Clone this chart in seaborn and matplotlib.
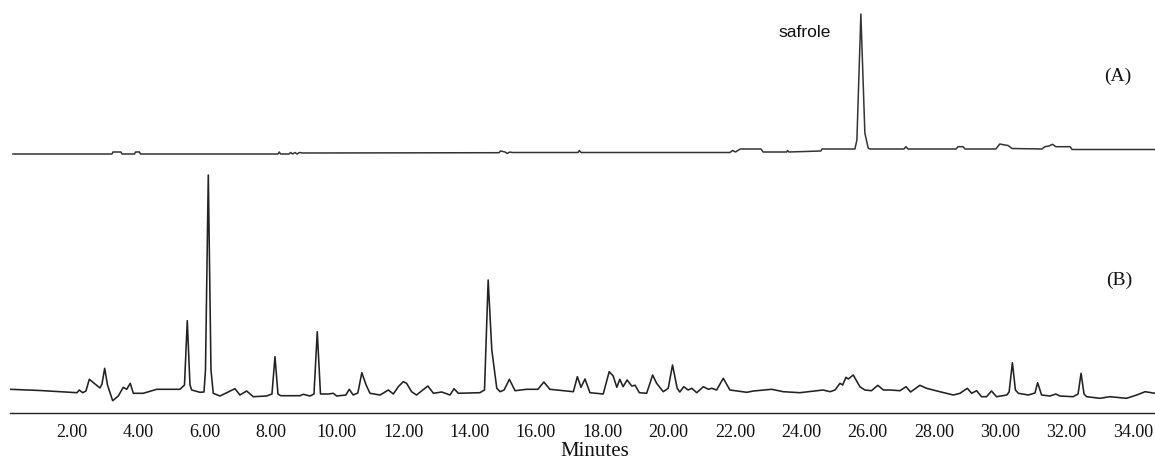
import matplotlib
matplotlib.use("Agg")
import matplotlib.pyplot as plt
from matplotlib.ticker import MultipleLocator, FormatStrFormatter
import seaborn as sns
import pandas as pd

# ---- Trace (A): retention time (min) and detector response ----
time_a = [0.22, 3.215, 3.245, 3.487, 3.517, 3.894, 3.924, 4.045, 4.075, 8.22, 8.26, 8.30,
          8.553, 8.604, 8.659, 8.734, 8.794, 8.869, 8.975, 14.89, 14.93, 15.07, 15.13, 15.22,
          15.28, 17.27, 17.31, 17.36, 21.85, 21.93, 22.02, 22.16, 22.79, 22.85, 23.56, 23.59,
          23.63, 24.59, 24.63, 25.62, 25.68, 25.80, 25.92, 26.02, 26.07, 27.10, 27.16, 27.22,
          28.67, 28.73, 28.88, 28.94, 29.87, 29.99, 30.14, 30.24, 30.36, 31.26, 31.35, 31.47,
          31.58, 31.68, 32.11, 32.17, 34.67]
signal_a = [0, 0, 2, 2, 0, 0, 2, 2, 0, 0, 2, 0,
            0, 1.5, 0, 1.5, 0, 1.5, 1, 1.3, 3, 2, 0.5, 2,
            1.5, 1.5, 3.5, 1.5, 1.5, 3.5, 2, 5, 5, 2, 2, 3.5,
            2, 3, 5, 5, 14, 140, 21, 6, 5, 5, 7.3, 5,
            5, 7.3, 7.3, 5, 5, 10, 9, 8.5, 5.5, 5, 7.3, 8,
            9.7, 7.3, 7.3, 4.5, 4.5]

# ---- Trace (B): retention time (min) and detector response ----
time_b = [0.139, 1.044, 2.160, 2.229, 2.332, 2.431, 2.531, 2.703, 2.853, 2.914, 2.995, 3.080,
          3.236, 3.405, 3.556, 3.659, 3.767, 3.858, 4.159, 4.563, 5.266, 5.402, 5.486, 5.568,
          5.619, 5.869, 5.990, 6.035, 6.120, 6.201, 6.270, 6.472, 6.924, 7.075, 7.277, 7.476,
          7.880, 8.040, 8.131, 8.221, 8.303, 8.885, 8.984, 9.186, 9.307, 9.406, 9.503, 9.738,
          9.889, 9.991, 10.27, 10.37, 10.49, 10.63, 10.75, 10.88, 10.996, 11.30, 11.55, 11.70,
          11.85, 12.00, 12.10, 12.25, 12.40, 12.74, 12.91, 13.16, 13.41, 13.53, 13.66, 14.31,
          14.45, 14.56, 14.67, 14.82, 14.92, 15.04, 15.20, 15.37, 15.72, 16.06, 16.24, 16.42,
          17.13, 17.25, 17.36, 17.48, 17.63, 18.03, 18.21, 18.33, 18.44, 18.53, 18.63, 18.75,
          18.89, 18.99, 19.12, 19.34, 19.52, 19.64, 19.84, 19.99, 20.12, 20.26, 20.34, 20.46,
          20.59, 20.70, 20.85, 21.05, 21.20, 21.30, 21.45, 21.65, 21.85, 22.36, 22.56, 23.11,
          23.46, 23.96, 24.66, 24.87, 25.02, 25.17, 25.25, 25.35, 25.42, 25.57, 25.77, 25.92,
          26.12, 26.31, 26.48, 26.68, 26.98, 27.16, 27.30, 27.58, 27.78, 28.18, 28.59, 28.79,
          29.01, 29.14, 29.29, 29.44, 29.59, 29.74, 29.89, 30.20, 30.27, 30.37, 30.46, 30.55,
          30.85, 31.05, 31.13, 31.25, 31.50, 31.68, 31.80, 32.20, 32.35, 32.44, 32.53, 32.61,
          33.01, 33.31, 33.81, 34.12, 34.37, 34.67]
signal_b = [5.7, 4.5, 2.3, 5, 2.3, 4, 15.7, 11, 7, 11, 26.7, 10,
            -5.7, -1, 7.7, 5.7, 11.7, 1.7, 1.7, 5.7, 5.7, 10, 74.3, 10,
            5, 2.7, 3, 25, 220, 25, 1.7, -1, 6.3, 0, 4, -1.7,
            -1, 1, 38.3, 1, -0.7, -0.7, 0.7, -1, 1, 63.3, 1, 1,
            1.7, -1, 0, 5.7, 0, 2, 22.3, 10, 1.7, 0, 5, 1,
            8.3, 13.3, 11.7, 3.3, 0, 9, 1.7, 3, 0, 6.3, 1.7, 2.3,
            5, 115, 45, 6.7, 3.3, 5, 15.7, 4.3, 5.7, 5.7, 13, 5.7,
            3.3, 18.3, 7.7, 16, 2.3, 1, 23.3, 19, 7.7, 15.7, 8.3, 15,
            9, 9.7, 2.3, 1.7, 20, 11.7, 3.3, 6.7, 30, 6.7, 3, 8.3,
            5, 6.7, 2.3, 8.3, 5.7, 6.7, 5, 16.7, 5, 2.7, 4, 5.7,
            3.3, 2.3, 5, 3.3, 5, 11.7, 10, 17.7, 16, 20, 8.3, 5,
            4.3, 9.7, 5, 5, 4.3, 8.3, 3, 9.7, 6.7, 3.3, 0, 1.7,
            6.7, 1.7, 4.3, -1.7, -1.7, 4, -1.7, 0, 3, 32.3, 5, 1.7,
            0, 2, 12.3, 0, -1, 1, -1, -1.7, 1, 21.7, 1, -1.7,
            -3.3, -1.7, -3.3, 0, 3.3, 1.7]

tick_values = [2, 4, 6, 8, 10, 12, 14, 16, 18, 20, 22, 24, 26, 28, 30, 32, 34]
compound_label = "safrole"
panel_labels = ["(A)", "(B)"]
x_title = "Minutes"

df_a = pd.DataFrame({"t": time_a, "s": signal_a})
df_b = pd.DataFrame({"t": time_b, "s": signal_b})

sns.set_style("white")
plt.rcParams["font.family"] = ["Liberation Serif", "DejaVu Serif"]

W, H = 1155, 466
fig = plt.figure(figsize=(W / 100, H / 100), dpi=100)

ax_left = 10 / W
ax_w = 1145 / W
axis_y = 413.3
split_y = 160
axB = fig.add_axes([ax_left, (H - axis_y) / H, ax_w, (axis_y - split_y) / H])
axA = fig.add_axes([ax_left, (H - split_y) / H, ax_w, split_y / H], sharex=axB)

xlim = (0.14, 34.67)

sns.lineplot(data=df_a, x="t", y="s", ax=axA, color="#333333", linewidth=1.1,
             estimator=None, sort=False)
sns.lineplot(data=df_b, x="t", y="s", ax=axB, color="#222222", linewidth=1.15,
             estimator=None, sort=False)

axA.set_xlim(*xlim)
axA.set_ylim(-6, 154)
axB.set_ylim(-18.3, 235)

for ax in (axA, axB):
    ax.set_facecolor("none")
    for side in ("left", "right", "top"):
        ax.spines[side].set_visible(False)
    ax.set_ylabel("")
    ax.set_yticks([])
axA.spines["bottom"].set_visible(False)
axA.tick_params(axis="x", which="both", bottom=False, labelbottom=False)
axA.set_xlabel("")

axB.spines["bottom"].set_color("#222222")
axB.spines["bottom"].set_linewidth(1.0)
axB.set_xticks(tick_values)
axB.xaxis.set_major_formatter(FormatStrFormatter("%.2f"))
axB.xaxis.set_minor_locator(MultipleLocator(0.5))
axB.tick_params(axis="x", which="major", direction="out", length=5.5, width=0.9,
                color="#222222", labelsize=13, pad=2.5, labelcolor="#111111")
axB.tick_params(axis="x", which="minor", direction="out", length=3.6, width=0.9,
                color="#222222")
axB.set_xlabel(x_title, fontsize=15, color="#111111", labelpad=1)
axB.xaxis.set_label_coords((594.5 - 10) / 1145, -(452 - axis_y) / (axis_y - split_y))
axB.xaxis.label.set_verticalalignment("center")

axA.text(24.90, 117.3, compound_label, ha="right", va="baseline", fontsize=12.5,
         family=["Liberation Sans", "DejaVu Sans"], color="#111111")
axA.text(33.55, 78, panel_labels[0], ha="center", va="center", fontsize=14, color="#111111")
axB.text(33.58, 115, panel_labels[1], ha="center", va="center", fontsize=14, color="#111111")

fig.savefig("out.png", dpi=100)
